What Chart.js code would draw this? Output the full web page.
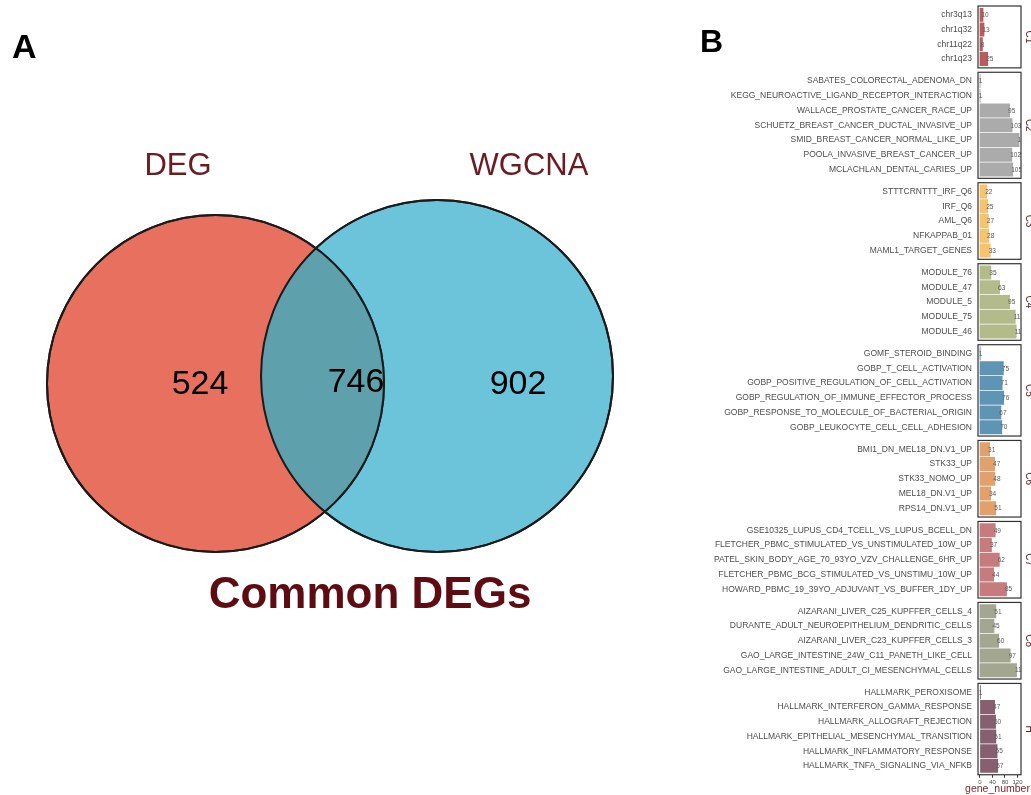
<!DOCTYPE html>
<html>
<head>
<meta charset="utf-8">
<script src="https://cdn.jsdelivr.net/npm/chart.js@4.4.1/dist/chart.umd.min.js"></script>
<style>
  html, body { margin: 0; padding: 0; background: #ffffff; }
  body { width: 1031px; height: 795px; position: relative; overflow: hidden; }
  canvas { position: absolute; }
</style>
</head>
<body>
<script>
// ---------- Panel A: overlap of the two gene sets ----------
const vennSets = ['DEG', 'WGCNA'];
const vennCounts = [524, 746, 902];          // DEG only, shared, WGCNA only
const vennTitle = 'Common DEGs';

// ---------- Panel B: enrichment terms per collection ----------
const facetNames = ['C1', 'C2', 'C3', 'C4', 'C5', 'C6', 'C7', 'C8', 'H'];

const termsC1 = ['chr3q13', 'chr1q32', 'chr11q22', 'chr1q23'];
const genesC1 = [10, 13, 8, 25];

const termsC2 = ['SABATES_COLORECTAL_ADENOMA_DN', 'KEGG_NEUROACTIVE_LIGAND_RECEPTOR_INTERACTION',
  'WALLACE_PROSTATE_CANCER_RACE_UP', 'SCHUETZ_BREAST_CANCER_DUCTAL_INVASIVE_UP',
  'SMID_BREAST_CANCER_NORMAL_LIKE_UP', 'POOLA_INVASIVE_BREAST_CANCER_UP', 'MCLACHLAN_DENTAL_CARIES_UP'];
const genesC2 = [1, 1, 95, 103, 125, 102, 105];

const termsC3 = ['STTTCRNTTT_IRF_Q6', 'IRF_Q6', 'AML_Q6', 'NFKAPPAB_01', 'MAML1_TARGET_GENES'];
const genesC3 = [22, 25, 27, 28, 33];

const termsC4 = ['MODULE_76', 'MODULE_47', 'MODULE_5', 'MODULE_75', 'MODULE_46'];
const genesC4 = [35, 63, 95, 113, 116];

const termsC5 = ['GOMF_STEROID_BINDING', 'GOBP_T_CELL_ACTIVATION', 'GOBP_POSITIVE_REGULATION_OF_CELL_ACTIVATION',
  'GOBP_REGULATION_OF_IMMUNE_EFFECTOR_PROCESS', 'GOBP_RESPONSE_TO_MOLECULE_OF_BACTERIAL_ORIGIN',
  'GOBP_LEUKOCYTE_CELL_CELL_ADHESION'];
const genesC5 = [1, 75, 71, 76, 67, 70];

const termsC6 = ['BMI1_DN_MEL18_DN.V1_UP', 'STK33_UP', 'STK33_NOMO_UP', 'MEL18_DN.V1_UP', 'RPS14_DN.V1_UP'];
const genesC6 = [31, 47, 48, 34, 51];

const termsC7 = ['GSE10325_LUPUS_CD4_TCELL_VS_LUPUS_BCELL_DN', 'FLETCHER_PBMC_STIMULATED_VS_UNSTIMULATED_10W_UP',
  'PATEL_SKIN_BODY_AGE_70_93YO_VZV_CHALLENGE_6HR_UP', 'FLETCHER_PBMC_BCG_STIMULATED_VS_UNSTIMU_10W_UP',
  'HOWARD_PBMC_19_39YO_ADJUVANT_VS_BUFFER_1DY_UP'];
const genesC7 = [49, 37, 62, 44, 85];

const termsC8 = ['AIZARANI_LIVER_C25_KUPFFER_CELLS_4', 'DURANTE_ADULT_NEUROEPITHELIUM_DENDRITIC_CELLS',
  'AIZARANI_LIVER_C23_KUPFFER_CELLS_3', 'GAO_LARGE_INTESTINE_24W_C11_PANETH_LIKE_CELL',
  'GAO_LARGE_INTESTINE_ADULT_CI_MESENCHYMAL_CELLS'];
const genesC8 = [51, 45, 60, 97, 117];

const termsH = ['HALLMARK_PEROXISOME', 'HALLMARK_INTERFERON_GAMMA_RESPONSE', 'HALLMARK_ALLOGRAFT_REJECTION',
  'HALLMARK_EPITHELIAL_MESENCHYMAL_TRANSITION', 'HALLMARK_INFLAMMATORY_RESPONSE', 'HALLMARK_TNFA_SIGNALING_VIA_NFKB'];
const genesH = [1, 47, 50, 51, 55, 57];

const geneTicks = [0, 40, 80, 120];
const geneAxisTitle = 'gene_number';

// ---------- styling & layout ----------
const FONT = '"Liberation Sans", Arial, Helvetica, sans-serif';
Chart.defaults.font.family = FONT;

const PAGE_W = 1031, PAGE_H = 795;

const vennStyle = {
  circles: [
    { x: 215.5, y: 383.5, r: 168.5, fill: '#E8705F' },
    { x: 437, y: 376, r: 176, fill: '#6CC4DA' }
  ],
  overlap: '#5FA0AD',
  outline: '#1b1b1b',
  setLabelPos: [[178, 166], [529, 166]],
  countPos: [[200, 385], [356, 383], [518, 385]],
  titlePos: [370, 596],
  setColor: '#6B1B21',
  titleColor: '#5E0B12'
};

const facetColors = ['#B85C5E', '#ABABAB', '#F7C36D', '#B3BB8A', '#5E95B5', '#E2A06C', '#C67C7C', '#A4A78F', '#87606F'];
const facetTerms = [termsC1, termsC2, termsC3, termsC4, termsC5, termsC6, termsC7, termsC8, termsH];
const facetGenes = [genesC1, genesC2, genesC3, genesC4, genesC5, genesC6, genesC7, genesC8, genesH];

const facetLayout = {
  left: 700, width: 331, axisWidth: 278, rightPad: 10,
  firstTop: 6, pitch: 14.73, gap: 4.4, pad: 14
};
const xRange = { min: -6.25, max: 131.25 };
const stripColor = '#6E1C22';
const axisTitleColor = '#7A1F25';

function makeCanvas(left, top, w, h) {
  const cv = document.createElement('canvas');
  cv.width = w; cv.height = h;
  cv.style.left = left + 'px'; cv.style.top = top + 'px';
  cv.style.width = w + 'px'; cv.style.height = h + 'px';
  document.body.appendChild(cv);
  return cv;
}

// ---------- Panel A chart ----------
const vennDecor = {
  id: 'vennDecor',
  afterDatasetsDraw(chart) {
    const ctx = chart.ctx;
    const [a, b] = [0, 1].map(i => chart.getDatasetMeta(i).data[0]);
    const ra = a.options.radius, rb = b.options.radius;
    ctx.save();
    ctx.beginPath(); ctx.arc(a.x, a.y, ra, 0, Math.PI * 2); ctx.clip();
    ctx.beginPath(); ctx.arc(b.x, b.y, rb, 0, Math.PI * 2);
    ctx.fillStyle = vennStyle.overlap; ctx.fill();
    ctx.restore();
    ctx.save();
    ctx.lineWidth = 2; ctx.strokeStyle = vennStyle.outline;
    [[a, ra], [b, rb]].forEach(([p, r]) => {
      ctx.beginPath(); ctx.arc(p.x, p.y, r, 0, Math.PI * 2); ctx.stroke();
    });
    ctx.restore();
  },
  afterDraw(chart) {
    const ctx = chart.ctx, xs = chart.scales.x, ys = chart.scales.y;
    const px = p => [xs.getPixelForValue(p[0]), ys.getPixelForValue(p[1])];
    ctx.save();
    ctx.textAlign = 'center'; ctx.textBaseline = 'middle';
    ctx.font = '31px ' + FONT; ctx.fillStyle = vennStyle.setColor;
    vennSets.forEach((s, i) => { const [x, y] = px(vennStyle.setLabelPos[i]); ctx.fillText(s, x, y); });
    ctx.font = '34px ' + FONT; ctx.fillStyle = '#000000';
    vennCounts.forEach((c, i) => { const [x, y] = px(vennStyle.countPos[i]); ctx.fillText(String(c), x, y); });
    ctx.font = 'bold 44px ' + FONT; ctx.fillStyle = vennStyle.titleColor;
    const [tx, ty] = px(vennStyle.titlePos); ctx.fillText(vennTitle, tx, ty);
    // panel tags
    ctx.textAlign = 'left'; ctx.textBaseline = 'alphabetic'; ctx.fillStyle = '#000000';
    ctx.font = 'bold 34px ' + FONT; ctx.fillText('A', 12, 58);
    ctx.font = 'bold 32px ' + FONT; ctx.fillText('B', 700, 52);
    ctx.restore();
  }
};

new Chart(makeCanvas(0, 0, PAGE_W, PAGE_H), {
  type: 'bubble',
  data: {
    datasets: vennStyle.circles.map((c, i) => ({
      label: vennSets[i],
      data: [{ x: c.x, y: c.y, r: c.r }],
      backgroundColor: c.fill,
      borderColor: vennStyle.outline,
      borderWidth: 2,
      clip: false
    }))
  },
  options: {
    responsive: false, animation: false, events: [],
    layout: { autoPadding: false, padding: 0 },
    plugins: { legend: { display: false }, tooltip: { enabled: false } },
    scales: {
      x: { type: 'linear', min: 0, max: PAGE_W, display: false },
      y: { type: 'linear', min: 0, max: PAGE_H, reverse: true, display: false }
    }
  },
  plugins: [vennDecor]
});

// ---------- Panel B charts, one per collection ----------
const facetDecor = {
  id: 'facetDecor',
  afterDatasetsDraw(chart, args, opts) {
    const { ctx, chartArea: ca } = chart;
    const xs = chart.scales.x, ys = chart.scales.y;
    // value labels, clipped to the panel
    ctx.save();
    ctx.beginPath(); ctx.rect(ca.left, ca.top, ca.right - ca.left, ca.bottom - ca.top); ctx.clip();
    ctx.font = '6.5px ' + FONT; ctx.fillStyle = '#5a5a5a';
    ctx.textAlign = 'left'; ctx.textBaseline = 'middle';
    chart.data.datasets[0].data.forEach(d => {
      ctx.fillText(String(d.x), xs.getPixelForValue(d.x) - 1.6, ys.getPixelForValue(d.y) + 0.5);
    });
    ctx.restore();
    // panel border
    ctx.save();
    ctx.strokeStyle = '#333333'; ctx.lineWidth = 1.2;
    ctx.strokeRect(ca.left, ca.top, ca.right - ca.left, ca.bottom - ca.top);
    ctx.restore();
    // strip label on the right
    ctx.save();
    ctx.translate(chart.width - 2, (ca.top + ca.bottom) / 2);
    ctx.rotate(Math.PI / 2);
    ctx.font = '10px ' + FONT; ctx.fillStyle = stripColor;
    ctx.textAlign = 'center'; ctx.textBaseline = 'middle';
    ctx.fillText(opts.label, 0, 0);
    ctx.restore();
    // axis title under the bottom panel
    if (opts.axisTitle) {
      ctx.save();
      ctx.font = '10.5px ' + FONT; ctx.fillStyle = axisTitleColor;
      ctx.textAlign = 'center'; ctx.textBaseline = 'middle';
      ctx.fillText(opts.axisTitle, (ca.left + ca.right) / 2 - 2, chart.height - 5.5);
      ctx.restore();
    }
  }
};

let boxTop = facetLayout.firstTop;
facetNames.forEach((name, k) => {
  const terms = facetTerms[k], genes = facetGenes[k];
  const n = terms.length;
  const last = k === facetNames.length - 1;
  const L = facetLayout;
  const boxH = (n + 0.2) * L.pitch;
  const canvasTop = Math.floor(boxTop - L.pad);
  const padTop = boxTop - canvasTop;
  let canvasH, padBottom, axisH = 0;
  if (last) {
    canvasH = PAGE_H - canvasTop;
    axisH = canvasH - padTop - boxH;
    padBottom = 0;
  } else {
    canvasH = Math.ceil(padTop + boxH + L.pad);
    padBottom = canvasH - padTop - boxH;
  }

  new Chart(makeCanvas(L.left, canvasTop, L.width, canvasH), {
    type: 'bar',
    data: {
      datasets: [{
        label: name,
        data: genes.map((g, i) => ({ x: g, y: i })),
        backgroundColor: facetColors[k],
        borderWidth: 0,
        barThickness: 0.9 * L.pitch
      }]
    },
    options: {
      indexAxis: 'y',
      responsive: false, animation: false, events: [],
      layout: { autoPadding: false, padding: { top: padTop, bottom: padBottom, left: 0, right: L.rightPad } },
      plugins: {
        legend: { display: false }, tooltip: { enabled: false },
        facetDecor: { label: name, axisTitle: last ? geneAxisTitle : '' }
      },
      scales: {
        y: {
          type: 'linear', min: -0.6, max: n - 0.4, reverse: true, offset: false,
          afterBuildTicks: s => { s.ticks = terms.map((_, i) => ({ value: i })); },
          afterFit: s => { s.width = L.axisWidth; },
          ticks: { callback: v => terms[v], font: { size: 8.5 }, color: '#4d4d4d', padding: 6, autoSkip: false },
          grid: { display: false, drawTicks: false, offset: false },
          border: { display: false }
        },
        x: {
          type: 'linear', min: xRange.min, max: xRange.max, display: last, offset: false,
          afterBuildTicks: s => { s.ticks = geneTicks.map(v => ({ value: v })); },
          afterFit: s => { if (last) s.height = axisH; },
          ticks: { font: { size: 6 }, color: '#4d4d4d', padding: 1, maxRotation: 0, autoSkip: false },
          grid: { display: true, drawOnChartArea: false, drawTicks: true, tickLength: 3, color: '#333333' },
          border: { display: false },
          title: { display: false }
        }
      }
    },
    plugins: [facetDecor]
  });

  boxTop += boxH + L.gap;
});
</script>
</body>
</html>
